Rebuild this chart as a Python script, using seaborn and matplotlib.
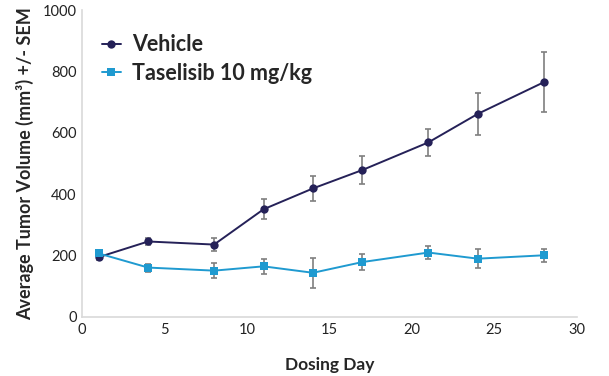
import seaborn as sns
import matplotlib.pyplot as plt
import pandas as pd
import numpy as np

# Tumor volume data
days = [1, 4, 8, 11, 14, 17, 21, 24, 28]
vehicle = [195, 246, 236, 351, 419, 479, 569, 662, 765]
vehicle_sem = [10, 13, 21, 33, 40, 45, 43, 69, 97]
taselisib = [207, 161, 151, 165, 144, 179, 210, 190, 201]
taselisib_sem = [12, 13, 25, 25, 48, 26, 20, 32, 21]
groups = ['Vehicle', 'Taselisib 10 mg/kg']
colors = ['#252158', '#1f9ad0']

df = pd.DataFrame({
    'Day': days * 2,
    'Volume': vehicle + taselisib,
    'SEM': vehicle_sem + taselisib_sem,
    'Group': [groups[0]] * len(days) + [groups[1]] * len(days),
})

sns.set_style('white')
plt.rcParams['font.family'] = ['Lato', 'DejaVu Sans']

fig = plt.figure(figsize=(6.09, 3.76), dpi=100)
ax = fig.add_axes([0.135, 0.157, 0.812, 0.816])

for g, c in zip(groups, colors):
    sub = df[df['Group'] == g]
    ax.errorbar(sub['Day'], sub['Volume'], yerr=sub['SEM'], fmt='none',
                ecolor='#7f7f7f', elinewidth=1.2, capsize=2.5, capthick=1.2, zorder=2)

sns.lineplot(data=df, x='Day', y='Volume', hue='Group', style='Group',
             palette=colors, markers=['o', 's'], dashes=False,
             markersize=6, markeredgewidth=0, linewidth=1.4, ax=ax, zorder=3)

ax.set_xlim(0, 30)
ax.set_ylim(0, 1000)
ax.set_xticks(range(0, 31, 5))
ax.set_yticks(range(0, 1001, 200))
ax.tick_params(labelsize=10.5, colors='#222222', length=0, pad=4)
for s in ['top', 'right']:
    ax.spines[s].set_visible(False)
for s in ['left', 'bottom']:
    ax.spines[s].set_color('#d9d9d9')
    ax.spines[s].set_linewidth(1.2)

ax.set_xlabel('Dosing Day', fontsize=12.5, fontweight='bold', labelpad=15)
ax.set_ylabel('Average Tumor Volume (mm³) +/- SEM', fontsize=13,
              fontweight='bold', labelpad=6)

leg = ax.legend(loc='upper left', bbox_to_anchor=(0.0, 0.985), frameon=False,
                prop={'family': 'Lato', 'weight': 'bold', 'size': 15.5},
                handlelength=0.9, handletextpad=0.5, labelspacing=0.35)

fig.savefig('out.png', dpi=100)
